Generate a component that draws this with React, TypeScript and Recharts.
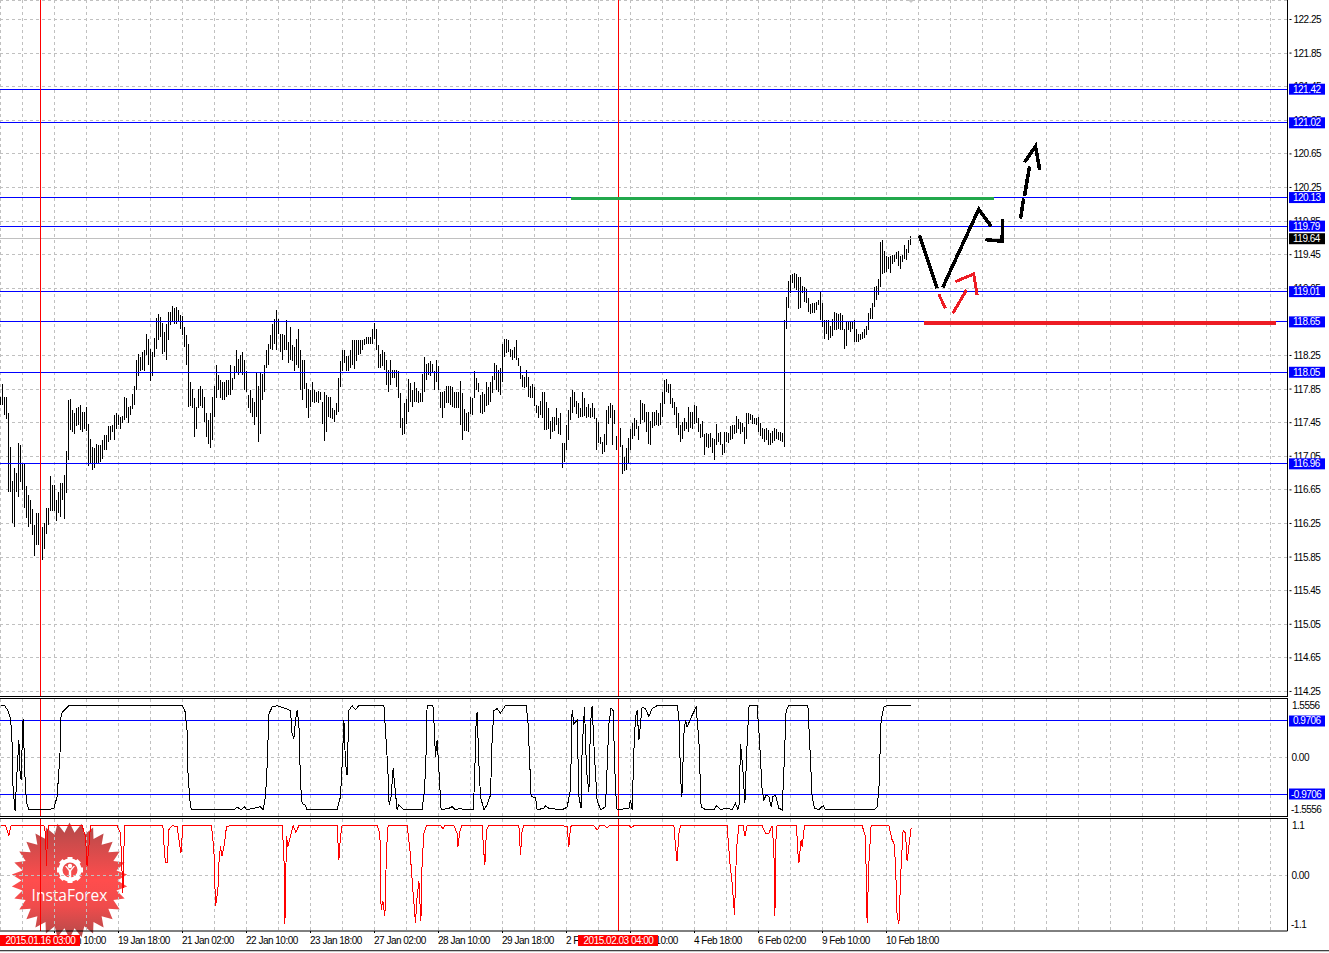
import { Bar, CartesianGrid, ComposedChart, Line, ReferenceLine, XAxis, YAxis } from "recharts";

// bar high / low, one value per bar
const highs = [
  117.76,117.91,117.76,117.76,117.56,117.16,116.75,116.91,116.85,117.21,
  117.18,116.96,116.96,116.70,116.59,116.53,116.42,116.23,116.38,116.38,
  116.37,116.21,116.25,116.44,116.44,116.81,116.71,116.71,116.53,116.63,
  116.73,116.73,116.83,117.11,117.72,117.73,117.60,117.56,117.63,117.64,
  117.66,117.58,117.58,117.64,117.44,117.26,117.16,117.15,117.20,117.19,
  117.19,117.24,117.30,117.30,117.41,117.41,117.42,117.54,117.56,117.54,
  117.52,117.53,117.75,117.74,117.64,117.65,117.79,117.89,118.20,118.27,
  118.23,118.29,118.31,118.50,118.45,118.33,118.29,118.46,118.70,118.74,
  118.71,118.64,118.53,118.63,118.77,118.77,118.84,118.81,118.83,118.79,
  118.73,118.72,118.59,118.49,118.39,117.93,117.85,117.74,117.64,117.85,
  117.89,117.85,117.76,117.56,117.48,117.57,117.76,117.89,118.14,118.02,
  117.96,117.94,117.94,117.96,117.96,118.14,117.98,118.12,118.31,118.21,
  118.25,118.29,118.20,118.06,117.78,117.84,117.74,117.70,118.04,117.89,
  118.04,118.03,118.14,118.31,118.39,118.49,118.63,118.68,118.79,118.69,
  118.51,118.51,118.49,118.67,118.41,118.59,118.37,118.35,118.45,118.56,
  118.31,118.20,118.20,117.92,117.85,117.84,117.94,117.84,117.82,117.83,
  117.82,117.70,117.81,117.78,117.76,117.76,117.63,117.60,117.68,117.98,
  118.18,118.31,118.31,118.24,118.24,118.32,118.44,118.43,118.44,118.44,
  118.44,118.44,118.45,118.47,118.47,118.47,118.56,118.64,118.57,118.37,
  118.27,118.31,118.29,118.20,118.08,118.20,118.08,118.08,118.08,118.06,
  117.80,117.50,117.68,117.73,117.97,117.92,117.84,117.94,117.86,117.83,
  117.80,118.03,118.23,118.15,118.16,118.19,118.15,118.07,118.20,118.12,
  117.81,117.82,117.83,117.89,117.89,117.89,117.87,117.82,117.81,117.82,
  117.95,117.80,117.61,117.57,117.58,117.75,117.74,118.06,117.98,117.92,
  117.78,117.82,117.79,117.94,117.88,117.94,118.00,118.16,118.14,118.08,
  118.10,118.39,118.45,118.45,118.44,118.33,118.32,118.35,118.43,118.22,
  118.12,118.02,117.99,118.08,117.99,117.89,117.91,117.88,117.66,117.65,
  117.71,117.81,117.82,117.70,117.63,117.47,117.52,117.52,117.63,117.50,
  117.56,117.21,117.21,117.42,117.60,117.76,117.84,117.81,117.71,117.68,
  117.63,117.81,117.74,117.64,117.67,117.63,117.68,117.63,117.50,117.46,
  117.28,117.22,117.32,117.60,117.65,117.68,117.66,117.60,117.29,117.32,
  117.39,117.19,117.04,117.15,117.27,117.38,117.45,117.51,117.48,117.41,
  117.72,117.68,117.67,117.58,117.58,117.47,117.58,117.58,117.60,117.57,
  117.68,117.82,117.96,117.97,117.91,117.91,117.74,117.70,117.64,117.56,
  117.42,117.46,117.50,117.46,117.64,117.58,117.58,117.66,117.65,117.51,
  117.44,117.47,117.32,117.33,117.32,117.33,117.27,117.26,117.43,117.33,
  117.34,117.20,117.34,117.34,117.33,117.41,117.42,117.42,117.53,117.49,
  117.46,117.45,117.40,117.57,117.56,117.55,117.54,117.51,117.51,117.52,
  117.45,117.39,117.38,117.39,117.36,117.33,117.35,117.39,117.38,117.34,
  117.34,117.33,118.67,118.95,119.14,119.21,119.22,119.23,119.22,119.18,
  119.18,119.08,119.06,119.04,118.93,118.86,118.87,118.87,118.89,118.91,
  119.00,118.87,118.67,118.67,118.67,118.60,118.69,118.77,118.75,118.74,
  118.75,118.73,118.57,118.65,118.66,118.65,118.66,118.67,118.56,118.51,
  118.51,118.53,118.56,118.60,118.76,118.81,118.87,119.06,119.08,119.16,
  119.60,119.62,119.49,119.44,119.42,119.44,119.45,119.45,119.48,119.49,
  119.44,119.45,119.57,119.52,119.62,119.67,
];
const lows = [
  117.66,117.66,117.54,117.49,116.63,116.62,116.26,116.21,116.63,116.57,
  116.74,116.65,116.44,116.32,116.21,116.24,116.11,115.86,115.99,115.99,
  115.91,115.82,115.95,116.12,116.23,116.40,116.40,116.40,116.28,116.37,
  116.33,116.53,116.30,116.61,117.00,117.36,117.34,117.32,117.41,117.42,
  117.36,117.34,117.38,117.35,116.94,116.96,116.89,116.91,116.96,116.96,
  116.98,117.02,117.12,117.12,117.22,117.24,117.34,117.24,117.38,117.42,
  117.37,117.45,117.48,117.51,117.45,117.54,117.61,117.66,117.84,118.00,
  118.06,118.08,118.07,118.25,118.14,117.95,118.00,118.23,118.33,118.43,
  118.47,118.27,118.29,118.20,118.43,118.61,118.65,118.63,118.63,118.65,
  118.57,118.49,118.35,118.14,117.64,117.65,117.63,117.28,117.38,117.62,
  117.65,117.62,117.46,117.28,117.20,117.15,117.24,117.52,117.74,117.84,
  117.74,117.72,117.72,117.76,117.78,117.78,117.84,117.97,118.04,118.02,
  118.04,118.02,117.84,117.82,117.62,117.56,117.52,117.42,117.52,117.22,
  117.32,117.72,117.82,118.10,118.14,118.33,118.31,118.39,118.31,118.51,
  118.29,118.20,118.31,118.31,118.16,118.20,118.18,118.06,118.14,118.10,
  117.84,117.72,117.85,117.62,117.51,117.64,117.70,117.68,117.70,117.68,
  117.72,117.43,117.23,117.34,117.52,117.51,117.49,117.46,117.54,117.58,
  117.87,118.06,118.16,118.06,118.06,118.10,118.14,118.09,118.19,118.25,
  118.27,118.31,118.37,118.39,118.39,118.39,118.39,118.45,118.31,118.10,
  118.10,118.12,118.08,117.90,117.82,117.90,117.98,117.98,117.88,117.74,
  117.39,117.30,117.31,117.43,117.58,117.70,117.64,117.70,117.70,117.68,
  117.70,117.70,117.82,117.96,118.02,118.00,118.04,117.84,117.94,117.84,
  117.62,117.50,117.63,117.68,117.68,117.66,117.64,117.62,117.63,117.62,
  117.42,117.24,117.35,117.35,117.34,117.55,117.54,117.74,117.84,117.82,
  117.56,117.55,117.58,117.65,117.66,117.70,117.80,117.96,117.84,117.81,
  117.78,117.93,118.23,118.28,118.29,118.23,118.20,118.22,118.20,118.12,
  117.97,117.87,117.86,117.87,117.75,117.74,117.74,117.65,117.56,117.50,
  117.54,117.50,117.36,117.36,117.37,117.25,117.34,117.35,117.42,117.31,
  117.30,116.91,116.98,117.13,117.24,117.48,117.56,117.64,117.55,117.50,
  117.52,117.52,117.53,117.50,117.52,117.50,117.52,117.49,117.12,117.21,
  117.20,117.08,117.10,117.19,117.43,117.50,117.19,117.44,117.12,116.96,
  117.16,116.84,116.87,116.89,116.96,117.12,117.25,117.29,117.37,117.24,
  117.43,117.48,117.46,117.34,117.20,117.18,117.39,117.41,117.42,117.41,
  117.42,117.52,117.67,117.81,117.80,117.67,117.62,117.54,117.39,117.30,
  117.22,117.25,117.35,117.38,117.34,117.39,117.38,117.43,117.45,117.34,
  117.27,117.28,117.06,117.16,117.15,117.16,117.09,117.00,117.19,117.22,
  117.18,117.06,117.09,117.22,117.21,117.24,117.26,117.32,117.33,117.38,
  117.32,117.34,117.20,117.25,117.43,117.48,117.43,117.43,117.42,117.34,
  117.29,117.25,117.22,117.24,117.19,117.19,117.21,117.23,117.26,117.24,
  117.23,117.22,117.16,118.56,118.81,118.99,119.11,119.05,119.03,118.80,
  118.81,118.99,118.89,118.87,118.77,118.74,118.76,118.76,118.79,118.85,
  118.67,118.59,118.45,118.51,118.44,118.46,118.48,118.55,118.55,118.56,
  118.55,118.55,118.33,118.36,118.55,118.53,118.56,118.41,118.41,118.41,
  118.43,118.45,118.46,118.49,118.55,118.68,118.69,118.83,118.91,118.97,
  119.06,119.22,119.23,119.24,119.28,119.23,119.34,119.36,119.40,119.32,
  119.28,119.36,119.40,119.39,119.47,119.57,
];

// upper oscillator, [bar, value] at each turn of the line
const oscPoints = [
  [0,1.38],[2,1.38],[3.7,1.25],[5,1.03],[5.7,0.55],[6.3,-0.86],[7.3,-1.41],[8.3,-0.34],[9.2,0.46],[9.7,-0.34],
  [10.3,-0.6],[11,0.63],[11.3,1.03],[12,-0.16],[12.5,-0.86],[13.3,-1.26],[14.2,-1.39],[20,-1.39],[22.5,-1.37],[24.2,-1.39],
  [26.7,-1.35],[28.3,-1.04],[29.7,0.02],[30.3,1.16],[31.7,1.25],[34.2,1.38],[37.5,1.38],[62.5,1.37],[90.8,1.38],[92.2,1.25],
  [93.3,0.72],[93.8,-0.51],[95,-1.31],[95.8,-1.39],[116.7,-1.39],[118.3,-1.32],[120.3,-1.39],[122,-1.31],[123,-1.39],[130,-1.31],
  [131.3,-1.39],[132.5,-1.04],[133.3,-0.25],[134.2,1.16],[135.8,1.34],[138.3,1.38],[141.7,1.32],[145,1.25],[145.8,0.63],[146.7,0.5],
  [147.5,0.99],[148.3,1.25],[149.2,0.9],[150,-0.69],[150.8,-1.22],[152.2,-1.26],[153.3,-1.39],[168.3,-1.39],[170,-1.04],[171,0.02],
  [171.7,0.99],[172.5,-0.16],[173.3,-0.47],[174.2,1.25],[175.8,1.38],[177.5,1.27],[179.2,1.38],[191.7,1.38],[192.5,0.72],[193.7,-0.34],
  [194.3,-1.26],[195.3,-1.04],[196.3,-0.29],[197.5,-0.95],[198.3,-1.39],[199.2,-1.26],[201.7,-1.39],[210.8,-1.39],[212,-0.86],[212.7,-0.07],
  [213.3,1.38],[216.2,1.38],[216.7,0.99],[217.5,0.02],[218.3,0.46],[219.2,-0.34],[220.3,-1.39],[224.2,-1.35],[225.8,-1.31],[227.5,-1.39],
  [230,-1.35],[231.7,-1.39],[236.3,-1.39],[237,-0.69],[237.7,0.81],[238.3,1.21],[239.2,-0.16],[240,-1.04],[241.7,-1.39],[243.3,-1.26],
  [245,-1],[245.8,0.46],[246.7,1.25],[248.3,1.3],[250,1.18],[252.5,1.38],[262.8,1.38],[263.7,0.99],[264.5,0.02],[265.3,-1.04],
  [267.5,-1.06],[268.3,-1.39],[271.7,-1.35],[272.5,-1.28],[274.2,-1.35],[280.8,-1.39],[283.3,-1.32],[285,-0.86],[285.8,1.25],[286.7,0.9],
  [288.3,0.99],[289.2,-1.04],[290.3,-1.35],[290.8,0.19],[292,1.34],[293,-0.34],[294.2,-0.91],[295,0.9],[295.8,1.38],[297,0.02],
  [298.3,-1.13],[300,-1.39],[302.5,-1.31],[304.2,0.9],[305.3,1.32],[306.3,1.25],[307.5,-0.86],[308.3,-1.39],[314.2,-1.35],[315,-1.13],
  [315.8,-1.39],[316.7,0.19],[317.5,1.08],[318.3,1.25],[319.2,0.46],[320.8,1.34],[322.5,1.3],[324.2,1.09],[325.8,1.3],[328.3,1.38],
  [338.3,1.38],[339.2,1.08],[340,-0.51],[340.7,-1.04],[341.7,0.63],[342.5,0.99],[343.3,0.81],[345.8,1.12],[347.8,1.34],[349.2,0.46],
  [350.3,-1.31],[352.5,-1.39],[356.7,-1.39],[358,-1.28],[360,-1.38],[363.3,-1.35],[365.8,-1.38],[367.5,-1.22],[368.7,-1.39],[369.3,-1.26],
  [370,0.37],[371.2,-0.34],[372.2,-1.22],[373,0.02],[374.2,1.34],[374.5,1.38],[378.3,1.38],[379.5,0.46],[380.8,-0.86],[381.7,-1.13],
  [382.8,-1],[384.2,-1.04],[385.3,-1.31],[386.2,-1.04],[387.5,-1],[389.2,-1.35],[390.8,-1.39],[391.7,-0.34],[392.8,1.25],[394.2,1.38],
  [403.7,1.38],[404.7,0.28],[405.8,-1.04],[407,-1.35],[409.2,-1.39],[411.3,-1.28],[412.5,-1.39],[436.7,-1.39],[438.3,-1.31],[439.2,-0.86],
  [440.3,0.99],[441.7,1.34],[443.3,1.38],[455,1.38],
];

// lower oscillator, same way
const lowerPoints = [
  [0,0.97],[2.5,0.97],[4.2,0.78],[5.3,0.97],[21.7,0.97],[22.5,0.82],[23,0.17],[23.5,0.82],[24.2,0.97],[40.8,0.97],
  [42.5,0.76],[43.3,0.17],[44.2,0.56],[45,0.97],[58.3,0.97],[60,0.82],[61.2,-0.35],[62,0.97],[81.2,0.97],[82,0.43],
  [82.5,0.25],[83.3,0.25],[84.2,0.89],[85.8,0.97],[88.3,0.95],[90.2,0.43],[91.2,0.97],[105.5,0.97],[106.7,0.5],[107.5,-0.61],
  [108.7,-0.29],[109.2,0.24],[110,0.56],[110.8,0.37],[112,0.63],[113,0.95],[115,0.97],[140.8,0.97],[141.7,0.43],[142.2,-0.97],
  [143,0.76],[143.7,0.56],[145,0.76],[146.3,0.97],[147.7,0.84],[149.2,0.97],[168.3,0.97],[169.2,0.3],[170,0.76],[170.8,0.97],
  [188.3,0.97],[189.7,0.82],[190.3,-0.68],[191.2,-0.52],[192.2,-0.81],[193,0.5],[193.8,0.97],[203.3,0.97],[204.7,0.5],[206.3,-0.35],
  [207.5,-0.94],[208.3,-0.42],[209.2,-0.12],[210.2,-0.91],[210.8,0.24],[211.7,0.82],[213,0.97],[220,0.97],[221.2,0.91],[222.2,0.97],
  [226.7,0.97],[228.3,0.82],[228.7,0.56],[229.7,0.86],[230,0.88],[230.5,0.97],[240.8,0.97],[241.7,0.43],[242.2,0.2],[243,0.89],
  [244.2,0.97],[259.2,0.97],[260,0.39],[260.8,0.86],[261.7,0.97],[280.8,0.97],[283.3,0.95],[284.2,0.56],[285,0.95],[285.8,0.97],
  [296.7,0.97],[298.3,0.88],[299.7,0.97],[302,0.97],[303.3,0.93],[304.5,0.97],[314.2,0.97],[315.3,0.93],[316.7,0.97],[336.7,0.97],
  [337.5,0.56],[338.3,0.27],[339.2,0.82],[340,0.97],[363.3,0.97],[364.7,0.24],[365.8,-0.16],[367,-0.78],[368,0.5],[369.2,0.97],
  [371.3,0.97],[372.2,0.76],[373.3,0.97],[380.8,0.97],[382.5,0.82],[384.2,0.82],[385.8,0.97],[386.7,0.5],[387.2,-0.81],[387.8,0.82],
  [388.3,0.97],[398,0.97],[398.7,0.43],[399.2,0.24],[400.3,0.69],[400.8,0.56],[402,0.97],[430.8,0.97],[432.5,0.76],[433.3,-0.94],
  [434.2,0.24],[435.3,0.97],[444.2,0.97],[445.8,0.69],[446.7,0.63],[447.5,0.24],[448.3,-0.81],[449.2,-0.97],[450.3,0.17],[451.3,0.88],
  [452.5,0.82],[453.3,0.27],[455.3,0.92],
];

// hand drawn forecast strokes, [bar, price]
const blackStrokes = [
  [[459.5,119.68],[468.3,119.05]],
  [[471.1,119.06],[489.1,119.99],[495.3,119.79]],
  [[492.5,119.63],[500.8,119.61],[501.1,119.87]],
  [[510,119.88],[511.6,120.12]],
  [[512,120.15],[514.5,120.5]],
  [[512,120.55],[517.5,120.74],[519.6,120.46]],
];
const redStrokes = [
  [[469.1,118.98],[472.5,118.81]],
  [[476.1,118.75],[483,119.03]],
  [[477.5,119.13],[486.6,119.22],[488.3,118.97]],
];
const greenLevel = [[285,120.12],[496.5,120.12]];
const redLevel = [[461.5,118.64],[637.5,118.64]];

const priceTicks = [122.25,121.85,121.45,121.05,120.65,120.25,119.85,119.45,119.05,118.65,118.25,117.85,117.45,117.05,116.65,116.25,115.85,115.45,115.05,114.65,114.25];
const levels = [121.42,121.02,120.13,119.79,119.01,118.65,118.05,116.96];
const lastPrice = 119.64;
const oscLevels = [0.9706,-0.9706];
const gridBars = [11,27,43,59,75,91,107,123,139,155,171,187,203,219,235,251,267,283,299,315,331,347,363,379,395,411,427,443,459,475,491,507,523,539,555,571,587,603,619,635];
const timeLabels: Record<number, string> = {
  27: "16 Jan 10:00", 59: "19 Jan 18:00", 91: "21 Jan 02:00", 123: "22 Jan 10:00", 155: "23 Jan 18:00",
  187: "27 Jan 02:00", 219: "28 Jan 10:00", 251: "29 Jan 18:00", 283: "2 Feb 02:00", 315: "3 Feb 10:00",
  347: "4 Feb 18:00", 379: "6 Feb 02:00", 411: "9 Feb 10:00", 443: "10 Feb 18:00",
};
const markerBars = [20, 309];
const markerLabels: Record<number, string> = { 20: "2015.01.16 03:00", 309: "2015.02.03 04:00" };

const FONT = "'Liberation Sans', Arial, sans-serif";
const GRID = "#c0c0c0";
const BLUE = "#0000ff";
const X_DOMAIN = [-0.25, 643.5];
const AXIS_W = 41.5;

const barData = highs.map((h, i) => ({ bar: i, range: [lows[i], h] }));
const toRows = (pts: number[][]) => pts.map(([bar, v]) => ({ bar, v }));

const axisText = (x: number, y: number, text: string, fill = "#000") => (
  <text x={x} y={y} fontFamily={FONT} fontSize={10} letterSpacing={-0.5} fill={fill}>{text}</text>
);

const tagBox = (x: number, y: number, text: string, fill: string) => (
  <g>
    <rect x={x + 1.5} y={y - 5.5} width={36} height={11} fill={fill} />
    {axisText(x + (text[0] === "-" ? 3.5 : 5.5), y + 3.5, text, "#fff")}
  </g>
);

const tag = (text: string, fill: string) => (p: any) =>
  tagBox(p.viewBox.x + p.viewBox.width, p.viewBox.y, text, fill);

// ticks come in order: plain labels first, then the tags that sit over them
const priceTick = (p: any) => {
  const v = p.payload.value;
  if (p.index >= priceTicks.length) {
    return tagBox(p.x, p.y, v.toFixed(2), v === lastPrice ? "#000" : "#0000ff");
  }
  return (
    <g>
      <line x1={p.x + 2} x2={p.x + 4} y1={p.y} y2={p.y} stroke="#000" />
      {axisText(p.x + 6, p.y + 3.5, v.toFixed(2))}
    </g>
  );
};

const oscTick = (p: any) => {
  const v = p.payload.value;
  if (v === 0) return axisText(p.x + 4, p.y + 3.5, "0.00");
  const dy = v > 0 ? 9.5 : -3;
  return axisText(p.x + (v > 0 ? 4.5 : 3.5), p.y + dy, v.toFixed(4));
};

const lowerTick = (p: any) => {
  const v = p.payload.value;
  if (v === 0) return axisText(p.x + 4, p.y + 3.5, "0.00");
  return axisText(p.x + (v > 0 ? 4.5 : 3.5), p.y + (v > 0 ? 9.5 : -3), String(v));
};

const timeTick = (p: any) => {
  const v = p.payload.value;
  if (markerLabels[v]) {
    return (
      <g>
        <rect x={p.x - 40.5} y={p.y + 4} width={80} height={11} fill="#ff0000" />
        <text x={p.x} y={p.y + 13} textAnchor="middle" fontFamily={FONT} fontSize={10} letterSpacing={-0.5} fill="#fff">{markerLabels[v]}</text>
      </g>
    );
  }
  const text = timeLabels[v];
  if (!text) return <g />;
  return (
    <g>
      <line x1={p.x} x2={p.x} y1={p.y} y2={p.y + 2} stroke="#000" />
      {axisText(p.x - 0.5, p.y + 13, text)}
    </g>
  );
};

const blankTick = () => <g />;

const barShape = (p: any) => (
  <rect x={Math.floor(p.x + 0.5)} y={p.y} width={1} height={p.height} fill="#000" shapeRendering="crispEdges" />
);

const Badge = () => {
  const cx = 69.5;
  const cy = 880.5;
  const spikes = 30;
  const star: string[] = [];
  for (let i = 0; i < spikes * 2; i++) {
    const r = i % 2 === 0 ? 58 : 48;
    const a = (Math.PI * i) / spikes - Math.PI / 2;
    star.push(`${cx + r * Math.cos(a)},${cy + r * Math.sin(a)}`);
  }
  const teeth = [0, 45, 90, 135, 180, 225, 270, 315];
  return (
    <svg width={1329} height={953} style={{ position: "absolute", left: 0, top: 0 }}>
      <defs>
        <linearGradient id="badgeFill" x1="0" y1="0" x2="0" y2="1">
          <stop offset="0" stopColor="#b24a4a" />
          <stop offset="0.5" stopColor="#ff4d4d" />
          <stop offset="0.72" stopColor="#f04c4c" />
          <stop offset="1" stopColor="#b24a4a" />
        </linearGradient>
      </defs>
      <polygon points="908,0 914,0 911,3" fill="#c8c8c8" />
      <polygon points={star.join(" ")} fill="url(#badgeFill)" />
      <g transform="translate(70 870)" fill="#fff">
        {teeth.map((t) => (
          <rect key={t} x={-2.5} y={-13} width={5} height={5} transform={`rotate(${t})`} />
        ))}
        <circle r={9.5} fill="none" stroke="#fff" strokeWidth={4} />
        <circle cy={-4} r={2.2} />
        <path d="M-5 -4 L-1.2 1 L-1.2 10 L1.2 10 L1.2 1 L5 -4 L3.5 -4 L0 0 L-3.5 -4 Z" />
      </g>
      <text x={69.5} y={901} textAnchor="middle" fontFamily="'Open Sans', sans-serif" fontSize={15.5} fill="#fff">InstaForex</text>
    </svg>
  );
};

const frame = (top: number) => (
  <div style={{ position: "absolute", left: 0, top, width: 1288, height: 1, background: "#000" }} />
);

const pane = (top: number): React.CSSProperties => ({ position: "absolute", left: 0, top });

const sketchLine = (pts: number[][], key: string, color: string, width: number) => (
  <Line
    key={key}
    data={toRows(pts)}
    dataKey="v"
    stroke={color}
    strokeWidth={width}
    dot={false}
    activeDot={false}
    legendType="none"
    isAnimationActive={false}
    shapeRendering="crispEdges"
    strokeLinecap="butt"
  />
);

export default function App() {
  return (
    <div style={{ position: "absolute", left: 0, top: 0, width: 1329, height: 953, background: "#fff", overflow: "hidden" }}>
      <Badge />

      <div style={pane(0)}>
        <ComposedChart width={1329} height={696} data={barData} margin={{ top: 0, right: 0, bottom: 0, left: 0 }}>
          <CartesianGrid stroke={GRID} strokeDasharray="3 3" shapeRendering="crispEdges" />
          <XAxis dataKey="bar" type="number" domain={X_DOMAIN} ticks={gridBars} interval={0} height={0} tickSize={0} tick={blankTick} axisLine={false} tickLine={false} allowDataOverflow />
          <YAxis orientation="right" width={AXIS_W} domain={[114.196, 122.482]} ticks={[...priceTicks, lastPrice, ...levels]} interval={0} tickSize={0} tickMargin={0} tick={priceTick} axisLine={{ stroke: "#000" }} tickLine={false} allowDataOverflow />
          <ReferenceLine y={lastPrice} stroke="#c0c0c0" shapeRendering="crispEdges" />
          {levels.map((l) => (
            <ReferenceLine key={l} y={l} stroke={BLUE} shapeRendering="crispEdges" />
          ))}
          {markerBars.map((m) => (
            <ReferenceLine key={m} x={m} stroke="#ff0000" />
          ))}
          <Bar dataKey="range" barSize={1} fill="#000" shape={barShape} isAnimationActive={false} />
          {sketchLine(greenLevel, "green", "#22a84c", 3)}
          {sketchLine(redLevel, "redLevel", "#ed1c24", 4)}
          {blackStrokes.map((s, i) => sketchLine(s, `b${i}`, "#000", 3.5))}
          {redStrokes.map((s, i) => sketchLine(s, `r${i}`, "#ed1c24", 3))}
        </ComposedChart>
      </div>
      {frame(696)}

      {frame(698)}
      <div style={pane(699)}>
        <ComposedChart width={1329} height={117} margin={{ top: 0, right: 0, bottom: 0, left: 0 }}>
          <CartesianGrid stroke={GRID} strokeDasharray="3 3" horizontal={false} shapeRendering="crispEdges" />
          <XAxis dataKey="bar" type="number" domain={X_DOMAIN} ticks={gridBars} interval={0} height={0} tickSize={0} tick={blankTick} axisLine={false} tickLine={false} allowDataOverflow />
          <YAxis orientation="right" width={AXIS_W} domain={[-1.5556, 1.5556]} ticks={[1.5556, 0, -1.5556]} interval={0} tickSize={0} tickMargin={0} tick={oscTick} axisLine={{ stroke: "#000" }} tickLine={false} allowDataOverflow />
          <ReferenceLine y={0} stroke={GRID} strokeDasharray="3 3" shapeRendering="crispEdges" />
          {oscLevels.map((l) => (
            <ReferenceLine key={l} y={l} stroke={BLUE} shapeRendering="crispEdges" label={tag(l.toFixed(4), "#0000ff")} />
          ))}
          {markerBars.map((m) => (
            <ReferenceLine key={m} x={m} stroke="#ff0000" />
          ))}
          <Line data={toRows(oscPoints)} dataKey="v" stroke="#000" dot={false} activeDot={false} isAnimationActive={false} shapeRendering="crispEdges" />
        </ComposedChart>
      </div>
      {frame(816)}

      {frame(818)}
      <div style={pane(819)}>
        <ComposedChart width={1329} height={134} margin={{ top: 0, right: 0, bottom: 0, left: 0 }}>
          <CartesianGrid stroke={GRID} strokeDasharray="3 3" horizontal={false} shapeRendering="crispEdges" />
          <XAxis dataKey="bar" type="number" domain={X_DOMAIN} ticks={[...gridBars, ...markerBars]} interval={0} height={22} tickSize={0} tickMargin={0} tick={timeTick} axisLine={{ stroke: "#000" }} tickLine={false} allowDataOverflow />
          <YAxis orientation="right" width={AXIS_W} domain={[-1.1, 1.1]} ticks={[1.1, 0, -1.1]} interval={0} tickSize={0} tickMargin={0} tick={lowerTick} axisLine={{ stroke: "#000" }} tickLine={false} allowDataOverflow />
          <ReferenceLine y={0} stroke={GRID} strokeDasharray="3 3" shapeRendering="crispEdges" />
          {markerBars.map((m) => (
            <ReferenceLine key={m} x={m} stroke="#ff0000" />
          ))}
          <Line data={toRows(lowerPoints)} dataKey="v" stroke="#ff0000" dot={false} activeDot={false} isAnimationActive={false} shapeRendering="crispEdges" />
        </ComposedChart>
      </div>

      <div style={{ position: "absolute", left: 0, top: 950, width: 1329, height: 1, background: "#404040" }} />
      <div style={{ position: "absolute", left: 0, top: 951, width: 1329, height: 1, background: "#c8c8c8" }} />
    </div>
  );
}
